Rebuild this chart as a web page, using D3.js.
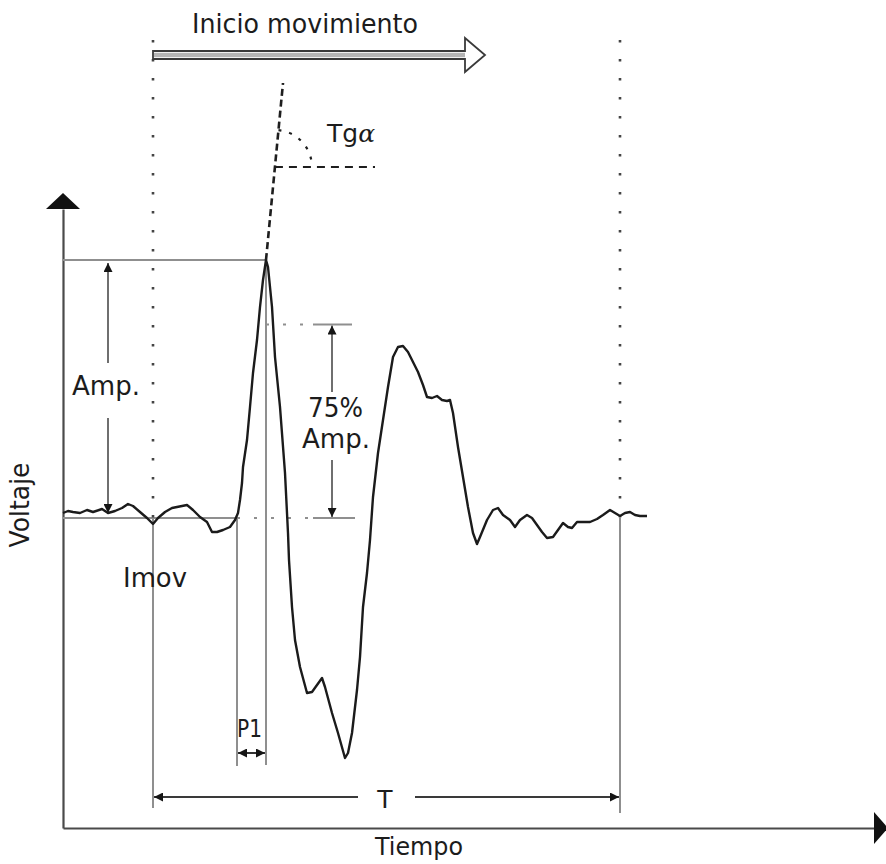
<!DOCTYPE html>
<html>
<head>
<meta charset="utf-8">
<script src="https://cdn.jsdelivr.net/npm/d3@7"></script>
<style>
  body { margin: 0; background: #fff; }
  text { font-family: "DejaVu Sans", sans-serif; fill: #1c1c1c; }
</style>
</head>
<body>
<svg id="chart" width="886" height="864"></svg>
<script>
// Motor potential waveform: time (ms) and voltage (mV)
const timeMs = [
  0, 1.25, 2.5, 4.25, 6, 7.5, 9.75, 11.25, 13, 14.75, 16.25, 17.5, 19.25, 21, 22.5, 23.75,
  25.5, 27.25, 28.5, 31, 32.5, 34.25, 36, 37.25, 38.5, 40, 41.75, 43, 43.75, 44.25, 44.75,
  45, 46, 46.75, 47.5, 48.5, 49.25, 50, 50.75, 51.25, 52.25, 53, 54.25, 55.5, 56.25, 56.5,
  57.25, 58, 59.25, 61, 62.25, 64.75, 65.5, 67.25, 68.75, 70.5, 71.25, 72.25, 73.5, 74.25,
  75, 76, 76.75, 77.5, 78.75, 80, 81.25, 82.5, 83.75, 85, 86.25, 87.5, 88.75, 90, 91, 92.25,
  93.5, 94.75, 96, 96.75, 97.5, 98.75, 100, 101.25, 102.5, 103.5, 104.25, 106, 107.5, 108.75,
  110, 111.75, 113, 114.25, 116, 117.25, 118.5, 119.75, 121, 122.5, 123.75, 125, 126.25,
  127.25, 128.5, 130, 131.75, 133.5, 135, 136.75, 138, 139.25, 140.5, 141.75, 143, 144.25, 146
];
const voltMv = [
  0.05, 0.07, 0.06, 0.05, 0.08, 0.06, 0.09, 0.05, 0.07, 0.10, 0.14, 0.12, 0.06, 0.00, -0.06, 0.00,
  0.06, 0.10, 0.11, 0.13, 0.08, 0.01, -0.04, -0.14, -0.14, -0.12, -0.09, -0.02, 0.05, 0.18, 0.35,
  0.51, 0.78, 1.11, 1.45, 1.78, 2.11, 2.38, 2.58, 2.51, 2.11, 1.61, 1.11, 0.45, -0.15, -0.42,
  -0.89, -1.22, -1.49, -1.75, -1.74, -1.60, -1.69, -1.95, -2.15, -2.40, -2.35, -2.15, -1.72, -1.39,
  -0.89, -0.55, -0.22, 0.21, 0.65, 0.98, 1.31, 1.61, 1.71, 1.72, 1.66, 1.56, 1.46, 1.33, 1.21, 1.20,
  1.22, 1.18, 1.17, 1.18, 1.05, 0.71, 0.41, 0.11, -0.15, -0.26, -0.19, -0.02, 0.08, 0.10,
  0.03, -0.02, -0.09, -0.02, 0.03, 0.00, -0.07, -0.14, -0.20, -0.19, -0.12, -0.05, -0.09,
  -0.10, -0.04, -0.04, -0.04, -0.01, 0.03, 0.08, 0.05, 0.02, 0.05, 0.06, 0.03, 0.02, 0.02
];

// Event times (ms): movement onset, start of P1, first peak, end of potential
const eventNames = ["onset", "p1Start", "peak", "end"];
const eventTimes = [22.5, 43.5, 50.75, 139.25];

// Reference levels (mV)
const baselineMv = 0;
const peakMv = 2.58;
const ampFraction = 0.75;          // "75% Amp."
const tangentTop = [55, 4.35];     // upper end of the tangent at the peak (ms, mV)
const angleRefEndMs = 78;          // end of the horizontal reference for Tg alpha

// Annotation labels
const labels = {
  title: "Inicio movimiento", tangent: "Tg", alpha: "\u03b1", amp: "Amp.", pct: "75%",
  onset: "Imov", p1: "P1", total: "T", xTitle: "Tiempo", yTitle: "Voltaje"
};

const ev = Object.fromEntries(eventNames.map((n, i) => [n, eventTimes[i]]));

const svg = d3.select("#chart");
const x = d3.scaleLinear().domain([0, 204.5]).range([63, 881]);
const y = d3.scaleLinear().domain([-3.1, 3.25]).range([828, 193]);

const defs = svg.append("defs");
defs.append("marker").attr("id", "head").attr("viewBox", "0 0 10 10")
  .attr("refX", 10).attr("refY", 5).attr("markerWidth", 9).attr("markerHeight", 9)
  .attr("markerUnits", "userSpaceOnUse").attr("orient", "auto-start-reverse")
  .append("path").attr("d", "M0,0 L10,5 L0,10 Z").attr("fill", "#151515");

const GUIDE = "#8f8f8f";
const line2 = (g, x1, y1, x2, y2, stroke, w, dash) => {
  const l = g.append("line").attr("x1", x1).attr("y1", y1).attr("x2", x2).attr("y2", y2)
    .attr("stroke", stroke).attr("stroke-width", w);
  if (dash) l.attr("stroke-dasharray", dash);
  return l;
};

// ---- axes (no ticks, arrow-tipped) ----
const axisColor = "#4a4a4a";
const xAxisScale = x.copy().range([63, 876]);
const yAxisScale = y.copy().domain([-3.1, y.invert(209)]).range([828, 209]);
const gx = svg.append("g").attr("transform", `translate(0,${y(-3.1)})`)
  .call(d3.axisBottom(xAxisScale).ticks(0).tickSizeOuter(0));
const gy = svg.append("g").attr("transform", `translate(${x(0)},0)`)
  .call(d3.axisLeft(yAxisScale).ticks(0).tickSizeOuter(0));
[gx, gy].forEach(g => g.select(".domain").attr("stroke", axisColor).attr("stroke-width", 2.2));
svg.append("path").attr("fill", "#111")
  .attr("d", `M${x(0)},193 L${x(0) - 17},209 L${x(0) + 17},209 Z`);
svg.append("path").attr("fill", "#111")
  .attr("d", `M874,${y(-3.1) - 16} L888,${y(-3.1)} L874,${y(-3.1) + 16} Z`);

// ---- guide lines ----
const guides = svg.append("g");
// peak level and baseline
line2(guides, x(0), y(peakMv), x(ev.peak), y(peakMv), GUIDE, 2);
line2(guides, x(0), y(baselineMv), x(ev.p1Start), y(baselineMv), GUIDE, 2);
line2(guides, x(ev.p1Start), y(baselineMv), x(62.5), y(baselineMv), GUIDE, 2.2, "3 14");
line2(guides, x(62.5), y(baselineMv), x(73), y(baselineMv), GUIDE, 2);
const y75 = y(baselineMv + ampFraction * (peakMv - baselineMv));
line2(guides, x(ev.peak), y75, x(62.5), y75, GUIDE, 2.2, "3 14");
line2(guides, x(62.5), y75, x(72.25), y75, GUIDE, 2);

// dotted verticals at onset and end
[ev.onset, ev.end].forEach(t =>
  line2(guides, x(t), y(4.78), x(t), y(baselineMv), "#444", 2.6, "2.5 16.5"));

// solid verticals down to the time brackets
line2(guides, x(ev.onset), y(baselineMv), x(ev.onset), y(-2.9), GUIDE, 2);
line2(guides, x(ev.p1Start), y(baselineMv), x(ev.p1Start), y(-2.48), GUIDE, 2);
line2(guides, x(ev.peak), y(peakMv), x(ev.peak), y(-2.47), GUIDE, 2);
line2(guides, x(ev.end), y(baselineMv), x(ev.end), y(-2.95), GUIDE, 2);

// ---- amplitude arrows ----
const ampX = x(11.25);
line2(guides, ampX, y(peakMv) + 3, ampX, 363, "#6f6f6f", 2).attr("marker-start", "url(#head)");
line2(guides, ampX, 418, ampX, y(baselineMv) - 5, "#6f6f6f", 2).attr("marker-end", "url(#head)");
const pctX = x(67.25);
line2(guides, pctX, y75 + 1, pctX, 392, "#6f6f6f", 2).attr("marker-start", "url(#head)");
line2(guides, pctX, 460, pctX, y(baselineMv) - 1, "#6f6f6f", 2).attr("marker-end", "url(#head)");

// ---- time brackets ----
line2(guides, x(ev.p1Start) + 1, y(-2.35), x(ev.peak) - 1, y(-2.35), "#333", 2)
  .attr("marker-start", "url(#head)").attr("marker-end", "url(#head)");
line2(guides, x(ev.onset) + 1, y(-2.79), x(73.75), y(-2.79), "#3a3a3a", 2.2)
  .attr("marker-start", "url(#head)");
line2(guides, x(88), y(-2.79), x(ev.end) - 1, y(-2.79), "#3a3a3a", 2.2)
  .attr("marker-end", "url(#head)");

// ---- movement-onset block arrow ----
const ax0 = x(ev.onset), ax2 = x(105.5), ax1 = ax2 - 20, ayc = y(4.63);
svg.append("path")
  .attr("d", `M${ax0},${ayc - 4} L${ax1},${ayc - 4} L${ax1},${ayc - 17} L${ax2},${ayc} ` +
             `L${ax1},${ayc + 17} L${ax1},${ayc + 4} L${ax0},${ayc + 4} Z`)
  .attr("fill", "#fff").attr("stroke", "#3a3a3a").attr("stroke-width", 1.8)
  .attr("stroke-linejoin", "miter");
svg.append("rect").attr("x", ax0 + 1).attr("y", ayc - 2.2).attr("width", ax1 - ax0 - 1)
  .attr("height", 4.4).attr("fill", "#b5b5b5");

// ---- waveform ----
const wave = timeMs.map((t, i) => [t, voltMv[i]]);
svg.append("path").datum(wave)
  .attr("d", d3.line().x(d => x(d[0])).y(d => y(d[1])))
  .attr("fill", "none").attr("stroke", "#1b1b1b").attr("stroke-width", 2.4)
  .attr("stroke-linejoin", "round");

// ---- tangent at the peak and Tg alpha angle ----
const px = x(ev.peak), py = y(peakMv);
const tx = x(tangentTop[0]), ty = y(tangentTop[1]);
svg.append("line").attr("x1", px).attr("y1", py).attr("x2", tx).attr("y2", ty)
  .attr("stroke", "#1e1e1e").attr("stroke-width", 2.6).attr("stroke-dasharray", "7 4");
const refMv = 3.51;
const slope = (tangentTop[1] - peakMv) / (tangentTop[0] - ev.peak);
const cxT = ev.peak + (refMv - peakMv) / slope;
const cx = x(cxT), cy = y(refMv);
svg.append("line").attr("x1", cx).attr("y1", cy).attr("x2", x(angleRefEndMs)).attr("y2", cy)
  .attr("stroke", "#1e1e1e").attr("stroke-width", 2.2).attr("stroke-dasharray", "8 6");
const ang = Math.atan2(ty - cy, tx - cx);
const arcPath = d3.path();
const r = 37;
arcPath.moveTo(cx + r * Math.cos(ang), cy + r * Math.sin(ang));
arcPath.arc(cx, cy, r, ang, 0);
svg.append("path").attr("d", arcPath.toString()).attr("fill", "none")
  .attr("stroke", "#1e1e1e").attr("stroke-width", 2.2).attr("stroke-dasharray", "3 8");

// ---- labels ----
const txt = (s, xx, yy, size, len, anchor = "start") => {
  const t = svg.append("text").attr("x", xx).attr("y", yy).attr("font-size", size)
    .attr("text-anchor", anchor).text(s);
  if (len) t.attr("textLength", len).attr("lengthAdjust", "spacingAndGlyphs");
  return t;
};
txt(labels.title, 192, 33, 26, 226);
const tg = svg.append("text").attr("x", 327).attr("y", 142).attr("font-size", 25);
tg.append("tspan").text(labels.tangent);
tg.append("tspan").attr("font-family", "DejaVu Serif").attr("font-style", "italic").text(labels.alpha);
txt(labels.amp, 72, 395, 26, 68);
txt(labels.pct, 308, 417, 26, 55);
txt(labels.amp, 302, 448, 26, 68);
txt(labels.onset, 123, 587, 26, 64);
txt(labels.p1, 237, 737, 25, 25);
txt(labels.total, 385, 808, 25, null, "middle");
txt(labels.xTitle, 375, 855, 25, 88);
svg.append("text").attr("transform", "translate(29,505) rotate(-90)")
  .attr("font-size", 26).attr("text-anchor", "middle")
  .attr("textLength", 85).attr("lengthAdjust", "spacingAndGlyphs").text(labels.yTitle);
</script>
</body>
</html>
